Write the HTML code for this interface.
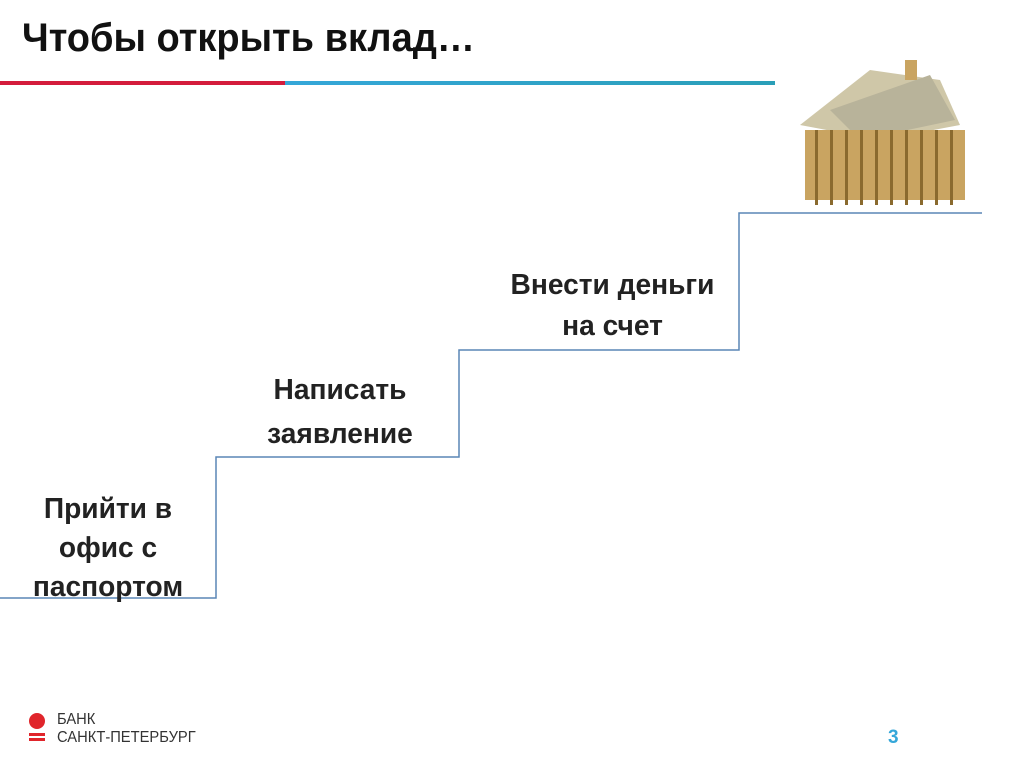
<!DOCTYPE html>
<html><head><meta charset="utf-8"><style>
body{margin:0;width:1024px;height:767px;background:#fff;position:relative;overflow:hidden;font-family:"Liberation Sans",sans-serif}
.t{position:absolute;font-weight:bold;color:#222;text-align:center;font-size:29px;line-height:39px;transform:scaleX(0.97)}
</style></head><body>
<div style="position:absolute;left:22px;top:16px;font-size:40px;font-weight:bold;color:#111;transform:scaleX(0.95);transform-origin:left">Чтобы открыть вклад…</div>
<div style="position:absolute;left:0;top:81px;width:285px;height:4px;background:#d41c3c"></div>
<div style="position:absolute;left:285px;top:81px;width:490px;height:4px;background:linear-gradient(90deg,#35a7d9,#2a9fb8)"></div>
<svg style="position:absolute;left:0;top:0" width="1024" height="767">
<polyline points="0,598 216,598 216,457 459,457 459,350 739,350 739,213 982,213" fill="none" stroke="#5a86b6" stroke-width="1.5"/>
<g>
<polygon points="800,125 870,70 940,80 960,125 880,140" fill="#cfc7a8"/>
<polygon points="830,110 930,75 955,120 860,140" fill="#b8b39a"/>
<rect x="805" y="130" width="160" height="70" fill="#c9a461"/>
<g fill="#8a6a2e">
<rect x="815" y="130" width="3" height="75"/><rect x="830" y="130" width="3" height="75"/><rect x="845" y="130" width="3" height="75"/><rect x="860" y="130" width="3" height="75"/><rect x="875" y="130" width="3" height="75"/><rect x="890" y="130" width="3" height="75"/><rect x="905" y="130" width="3" height="75"/><rect x="920" y="130" width="3" height="75"/><rect x="935" y="130" width="3" height="75"/><rect x="950" y="130" width="3" height="75"/>
</g>
<rect x="905" y="60" width="12" height="20" fill="#c9a461"/>
</g>
<circle cx="37" cy="721" r="8" fill="#e0252b"/>
<rect x="29" y="733" width="16" height="3" fill="#e0252b"/>
<rect x="29" y="738" width="16" height="3" fill="#e0252b"/>
</svg>
<div style="position:absolute;left:57px;top:711px;font-size:16px;color:#333;line-height:18px;transform:scaleX(0.92);transform-origin:left">БАНК<br>САНКТ-ПЕТЕРБУРГ</div>
<div style="position:absolute;left:888px;top:727px;font-size:19px;font-weight:bold;color:#35a7d9">3</div>
<div class="t" style="left:-10px;top:490px;width:236px">Прийти в<br>офис с<br>паспортом</div>
<div class="t" style="left:225px;top:368px;width:230px;line-height:44px">Написать<br>заявление</div>
<div class="t" style="left:480px;top:265px;width:265px;line-height:41px">Внести деньги<br>на счет</div>
</body></html>
